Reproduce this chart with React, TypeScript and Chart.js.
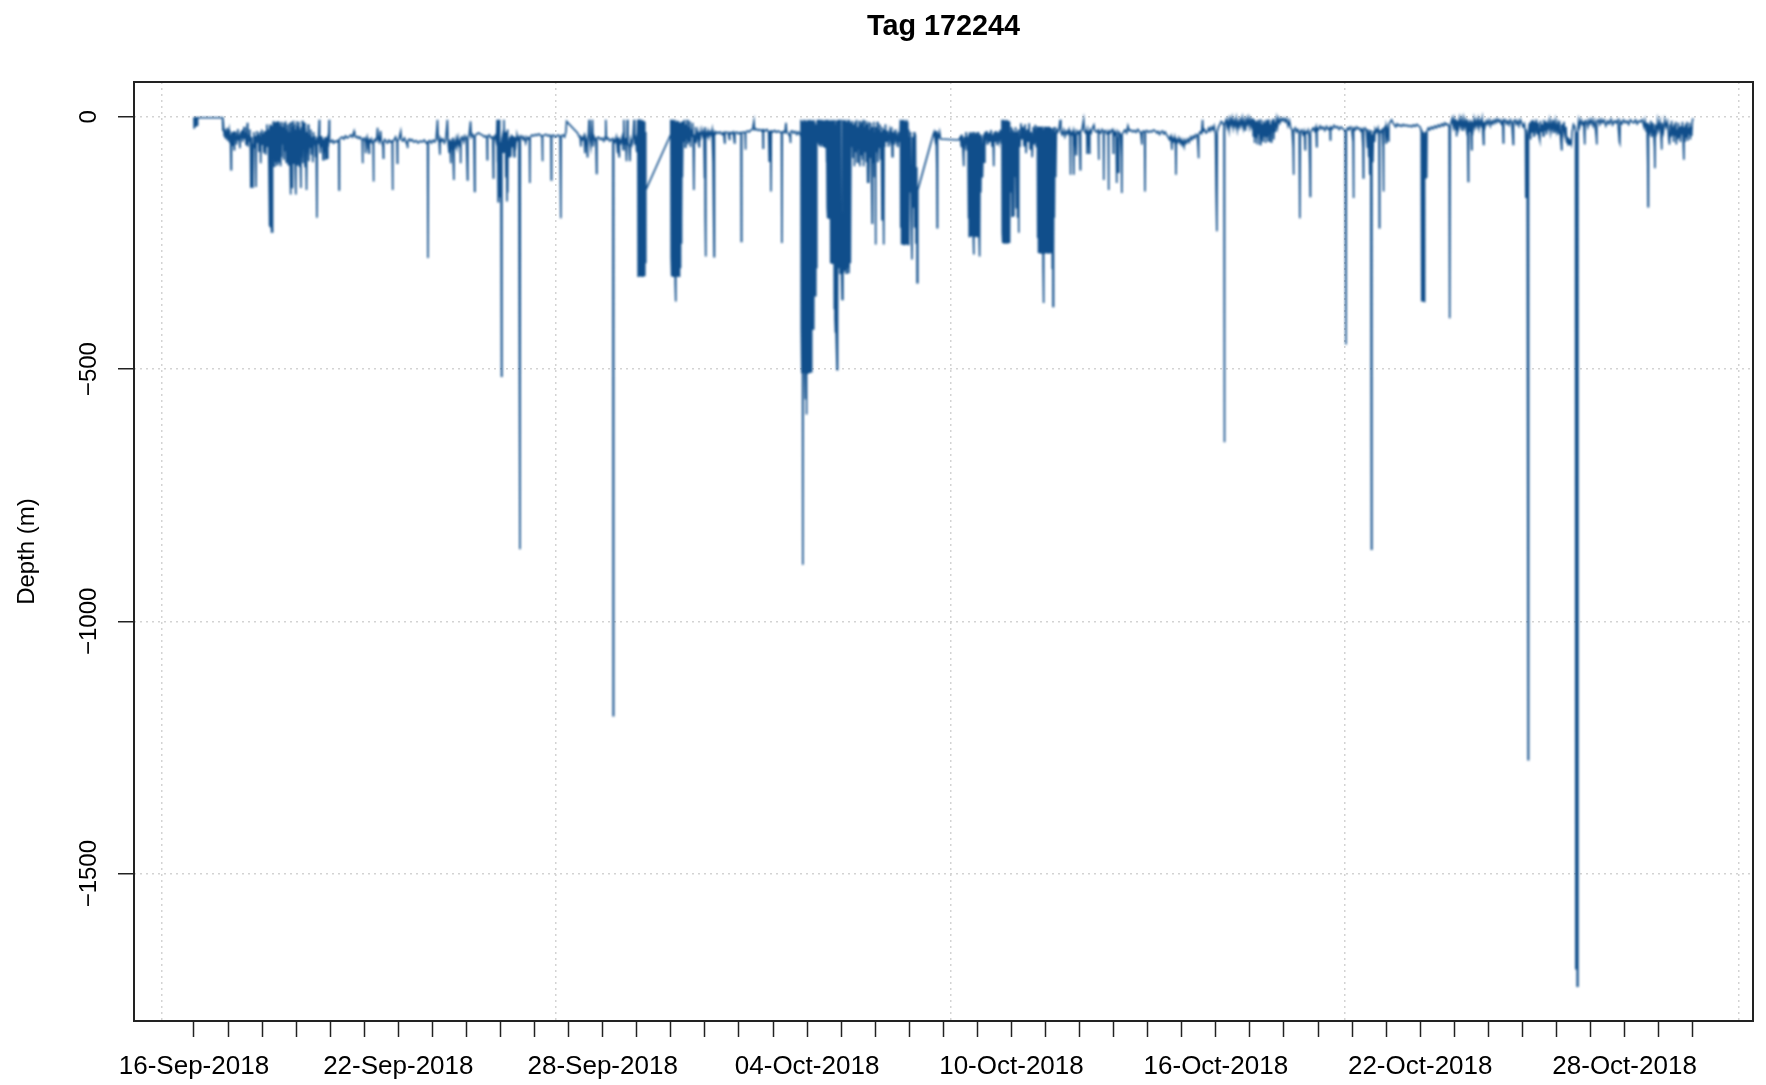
import React, { useEffect, useRef } from 'react';
import { Chart, registerables } from 'chart.js';

Chart.register(...registerables);

// ---------- labels / ticks ----------
const TITLE = 'Tag 172244';
const Y_TITLE = 'Depth (m)';
const X_TICK_DAYS = [0, 1, 2, 3, 4, 5, 6, 7, 8, 9, 10, 11, 12, 13, 14, 15, 16, 17, 18, 19, 20, 21, 22, 23, 24, 25, 26, 27, 28, 29, 30, 31, 32, 33, 34, 35, 36, 37, 38, 39, 40, 41, 42, 43, 44];
const X_LABEL_DAYS = [0, 6, 12, 18, 24, 30, 36, 42];
const X_LABELS = ['16-Sep-2018', '22-Sep-2018', '28-Sep-2018', '04-Oct-2018', '10-Oct-2018', '16-Oct-2018', '22-Oct-2018', '28-Oct-2018'];
const X_GRID_DAYS = [-0.9398, 10.6343, 22.2084, 33.7824, 45.3565];
const Y_TICKS = [0, -500, -1000, -1500];
const Y_LABELS = ['0', '\u2212500', '\u22121000', '\u22121500'];
const X_MIN = -1.76;
const X_MAX = 45.77;
const Y_MIN = -1792;
const Y_MAX = 69;

// ---------- depth record: [days since 16-Sep-2018, depth m] ----------
const SEP16_TO_SEP20: number[][] = [
[0.00,-2],[0.005,-22],[0.01,-2],[0.05,-2],[0.055,-20],[0.06,-2],[0.10,-2],[0.105,-18],[0.11,-2],[0.84,-2],
[0.85,-28],[0.87,-20],[0.89,-38],[0.91,-25],[0.93,-44],[0.95,-30],[0.97,-22],[0.99,-48],[1.01,-33],[1.03,-26],[1.05,-52],[1.07,-35],[1.08,-70],[1.09,-105],[1.10,-50],[1.12,-30],[1.14,-58],[1.16,-32],[1.18,-65],[1.19,-28],[1.21,-45],[1.23,-30],[1.25,-55],[1.27,-38],[1.29,-24],[1.31,-47],[1.33,-35],[1.35,-62],[1.37,-30],[1.39,-42],[1.41,-26],[1.43,-50],[1.45,-36],[1.47,-20],[1.49,-44],[1.51,-31],[1.53,-55],[1.55,-28],[1.57,-12],[1.58,-59],[1.60,-35],[1.62,-48],[1.64,-25],[1.66,-70],[1.67,-141],[1.68,-60],[1.69,-138],[1.70,-40],[1.72,-90],[1.73,-141],[1.74,-55],[1.76,-30],[1.78,-62],[1.80,-38],[1.82,-139],[1.83,-45],[1.85,-28],[1.87,-52],[1.89,-35],[1.91,-68],[1.93,-30],[1.95,-58],[1.96,-92],[1.97,-40],[1.99,-25],[2.01,-56],[2.03,-33],[2.05,-72],[2.07,-28],[2.09,-50],[2.11,-75],[2.12,-30],[2.14,-15],[2.16,-60],[2.18,-25],[2.20,-95],
[2.21,-150],[2.215,-20],[2.22,-190],[2.225,-30],[2.23,-217],[2.235,-15],[2.24,-205],[2.245,-25],[2.25,-217],[2.255,-40],[2.26,-220],[2.265,-20],[2.27,-225],[2.275,-35],[2.28,-230],[2.285,-18],[2.29,-210],[2.295,-45],[2.30,-230],[2.305,-30],[2.31,-200],[2.32,-40],
[2.33,-9],[2.34,-85],[2.35,-20],[2.36,-98],[2.37,-12],[2.38,-75],[2.39,-25],[2.40,-90],[2.41,-10],[2.42,-65],[2.43,-30],[2.44,-95],[2.45,-15],[2.46,-70],[2.47,-9],[2.48,-88],[2.49,-22],[2.50,-60],[2.51,-12],[2.52,-92],[2.53,-28],[2.54,-70],[2.55,-98],[2.56,-18],[2.57,-80],[2.58,-10],[2.60,-55],[2.62,-20],[2.64,-85],[2.65,-12],[2.67,-68],[2.69,-9],[2.71,-90],[2.72,-25],[2.74,-60],[2.75,-15],[2.77,-95],[2.78,-30],[2.80,-72],[2.81,-12],[2.83,-120],[2.84,-154],[2.85,-30],[2.86,-85],[2.87,-10],[2.88,-140],[2.89,-20],[2.91,-92],[2.92,-8],[2.94,-78],[2.95,-15],[2.97,-100],[2.99,-154],[3.00,-25],[3.01,-88],[3.02,-9],[3.04,-95],[3.05,-18],[3.07,-70],[3.08,-10],[3.10,-98],[3.11,-25],[3.13,-110],[3.14,-141],[3.15,-20],[3.17,-80],[3.18,-8],[3.20,-92],[3.21,-30],[3.23,-65],[3.24,-12],[3.26,-100],[3.27,-22],[3.29,-85],[3.30,-110],[3.31,-145],[3.32,-30],[3.34,-70],[3.35,-15],[3.37,-88],[3.39,-35],[3.41,-60],[3.43,-25],[3.45,-75],[3.47,-40],[3.49,-90],[3.51,-30],[3.53,-55],[3.55,-38],[3.57,-80],[3.59,-45],[3.61,-200],[3.62,-40],[3.64,-55],[3.66,-35],[3.68,-6],[3.69,-50],[3.71,-72],[3.73,-38],[3.75,-60],[3.77,-42],[3.79,-85],[3.81,-45],[3.83,-70],[3.85,-40],[3.87,-85],[3.88,-42],[3.90,-60],[3.92,-82],[3.93,-45],[3.95,-50],[3.97,-6],[3.98,-48],[4.02,-50],[4.06,-46],[4.10,-52],[4.14,-48],[4.18,-50],[4.22,-47],[4.25,-52],[4.26,-145],[4.27,-45]
];

const SEP20_TO_SEP24: number[][] = [
[4.30,-42],[4.35,-40],[4.40,-44],[4.45,-38],[4.50,-42],[4.55,-40],[4.60,-36],[4.65,-40],[4.70,-29],[4.72,-38],[4.76,-41],[4.80,-39],[4.84,-43],[4.88,-40],[4.92,-44],[4.94,-48],[4.95,-92],[4.96,-45],[5.00,-42],[5.03,-50],[5.04,-72],[5.05,-48],[5.08,-40],[5.10,-55],[5.12,-45],[5.14,-72],[5.15,-46],[5.18,-50],[5.21,-44],[5.24,-52],[5.26,-55],[5.27,-128],[5.28,-50],[5.31,-45],[5.34,-48],[5.37,-40],[5.39,-22],[5.41,-45],[5.44,-50],[5.48,-28],[5.50,-48],[5.53,-52],[5.55,-60],[5.56,-82],[5.57,-50],[5.60,-45],[5.64,-49],[5.68,-52],[5.72,-46],[5.76,-50],[5.80,-48],[5.82,-52],[5.83,-145],[5.84,-50],[5.88,-45],[5.92,-40],[5.96,-50],[5.97,-92],[5.98,-48],[6.02,-44],[6.07,-29],[6.09,-45],[6.13,-48],[6.18,-42],[6.22,-50],[6.26,-55],[6.27,-62],[6.28,-48],[6.32,-44],[6.36,-48],[6.40,-45],[6.46,-50],[6.52,-47],[6.58,-52],[6.64,-48],[6.70,-50],[6.76,-46],[6.82,-52],[6.86,-50],[6.87,-280],[6.88,-50],[6.92,-47],[6.97,-52],[7.02,-46],[7.07,-50],[7.11,-44],[7.15,-6],[7.17,-45],[7.20,-50],[7.22,-75],[7.23,-42],[7.27,-48],[7.31,-44],[7.35,-52],[7.39,-46],[7.44,-6],[7.46,-50],[7.49,-70],[7.51,-45],[7.54,-92],[7.55,-48],[7.57,-65],[7.59,-42],[7.61,-80],[7.63,-125],[7.64,-50],[7.67,-58],[7.70,-44],[7.73,-60],[7.76,-42],[7.79,-55],[7.82,-48],[7.83,-92],[7.84,-45],[7.88,-40],[7.92,-50],[7.96,-38],[8.00,-45],[8.03,-125],[8.04,-40],[8.08,-36],[8.12,-9],[8.14,-40],[8.18,-35],[8.22,-42],[8.24,-148],[8.25,-38],[8.30,-34],[8.36,-32],[8.42,-35]
];

const SEP24_TO_OCT03: number[][] = [
[8.47,-36],[8.52,-40],[8.57,-38],[8.60,-42],[8.61,-85],[8.62,-40],[8.67,-36],[8.72,-42],[8.77,-40],[8.79,-121],[8.80,-45],[8.84,-38],[8.88,-50],[8.90,-6],[8.91,-90],[8.92,-30],[8.93,-168],[8.94,-20],[8.95,-140],[8.96,-6],[8.97,-160],[8.98,-40],[9.00,-120],[9.01,-50],[9.03,-514],[9.04,-45],[9.06,-38],[9.08,-70],[9.10,-6],[9.12,-60],[9.14,-30],[9.16,-120],[9.17,-40],[9.19,-168],[9.20,-25],[9.21,-150],[9.22,-45],[9.25,-79],[9.27,-40],[9.30,-79],[9.32,-35],[9.35,-60],[9.37,-38],[9.40,-79],[9.42,-40],[9.45,-55],[9.48,-36],[9.50,-45],[9.54,-40],[9.57,-857],[9.58,-42],[9.62,-38],[9.66,-45],[9.70,-40],[9.74,-52],[9.78,-40],[9.82,-44],[9.85,-42],[9.86,-131],[9.87,-40],[9.92,-36],[9.97,-38],[10.02,-35],[10.07,-37],[10.12,-34],[10.17,-36],[10.22,-40],[10.23,-88],[10.24,-38],[10.29,-36],[10.34,-35],[10.39,-38],[10.44,-36],[10.48,-40],[10.49,-125],[10.50,-38],[10.55,-36],[10.60,-40],[10.65,-38],[10.70,-36],[10.75,-40],[10.77,-201],[10.78,-38],[10.83,-36],[10.88,-40],[10.92,-30],[10.94,-9],
[11.26,-32],[11.30,-38],[11.34,-42],[11.36,-59],[11.37,-40],[11.41,-45],[11.45,-38],[11.48,-72],[11.49,-40],[11.53,-50],[11.55,-79],[11.56,-42],[11.58,-35],[11.60,-6],[11.62,-45],[11.65,-60],[11.67,-40],[11.70,-6],[11.72,-59],[11.75,-40],[11.80,-48],[11.82,-112],[11.83,-42],[11.88,-40],[11.93,-45],[11.98,-42],[12.03,-48],[12.07,-40],[12.09,-6],[12.11,-45],[12.16,-42],[12.21,-48],[12.26,-44],[12.30,-46],[12.31,-1187],[12.32,-45],[12.36,-50],[12.40,-40],[12.44,-72],[12.45,-42],[12.48,-79],[12.49,-45],[12.53,-52],[12.57,-40],[12.60,-65],[12.62,-6],[12.64,-55],[12.67,-42],[12.70,-88],[12.72,-6],[12.74,-50],[12.78,-60],[12.80,-88],[12.82,-45],[12.86,-55],[12.89,-40],[12.92,-6],[12.94,-55],[12.97,-45],[13.00,-70],
[13.03,-6],[13.04,-316],[13.05,-10],[13.06,-300],[13.07,-5],[13.08,-316],[13.09,-15],[13.10,-310],[13.11,-8],[13.12,-316],[13.13,-12],[13.14,-305],[13.15,-6],[13.16,-316],[13.17,-20],[13.18,-312],[13.19,-8],[13.20,-316],[13.21,-15],[13.22,-300],[13.23,-10],[13.24,-316],[13.25,-30],[13.26,-290],[13.27,-145],
[13.99,-36],[14.00,-6],[14.01,-280],[14.02,-10],[14.03,-316],[14.04,-6],[14.05,-263],[14.06,-15],[14.07,-316],[14.08,-8],[14.09,-300],[14.10,-12],[14.11,-316],[14.12,-6],[14.13,-330],[14.14,-366],[14.15,-10],[14.16,-316],[14.17,-20],[14.18,-310],[14.19,-8],[14.20,-316],[14.21,-15],[14.22,-290],[14.23,-10],[14.24,-316],[14.25,-25],[14.26,-280],[14.27,-12],[14.28,-300],[14.29,-20],[14.30,-250],[14.31,-10],[14.32,-200],[14.33,-30],[14.34,-120],
[14.36,-9],[14.38,-50],[14.40,-6],[14.42,-60],[14.44,-15],[14.46,-45],[14.48,-6],[14.50,-55],[14.52,-20],[14.54,-48],[14.56,-9],[14.58,-60],[14.60,-25],[14.62,-40],[14.64,-12],[14.66,-52],[14.67,-100],[14.68,-145],[14.69,-35],[14.71,-50],[14.73,-20],[14.76,-45],[14.80,-30],[14.83,-59],[14.84,-30],[14.87,-40],[14.90,-25],[14.94,-38],[14.97,-30],[14.99,-120],[15.00,-20],[15.01,-200],[15.02,-277],[15.03,-30],[15.06,-38],[15.09,-28],[15.12,-40],[15.15,-30],[15.18,-35],[15.21,-26],[15.24,-90],[15.25,-30],[15.26,-184],[15.27,-277],[15.28,-30],[15.31,-34],[15.35,-30],
[15.40,-33],[15.45,-30],[15.50,-35],[15.55,-31],[15.58,-52],[15.59,-32],[15.64,-30],[15.69,-34],[15.72,-45],[15.73,-31],[15.78,-33],[15.83,-30],[15.87,-52],[15.88,-32],[15.93,-30],[15.98,-34],[16.03,-31],[16.06,-33],[16.07,-247],[16.08,-32],[16.13,-30],[16.18,-33],[16.19,-65],[16.20,-31],[16.25,-28],[16.30,-30],[16.35,-26],[16.40,-25],[16.44,-9],[16.46,-26],[16.51,-24],[16.56,-27],[16.61,-25],[16.66,-28],[16.70,-26],[16.71,-62],[16.72,-26],[16.77,-28],[16.82,-25],[16.87,-30],[16.89,-88],[16.90,-28],[16.93,-40],[16.94,-148],[16.95,-28],[17.00,-30],[17.05,-27],[17.10,-31],[17.15,-28],[17.20,-30],[17.25,-32],[17.26,-250],[17.27,-30]
];

const OCT03_TO_OCT08: number[][] = [
[17.30,-29],[17.35,-32],[17.38,-12],[17.40,-30],[17.45,-33],[17.50,-40],[17.51,-52],[17.52,-30],[17.56,-28],[17.60,-32],[17.65,-29],[17.70,-35],[17.74,-30],[17.78,-33],[17.81,-38],
[17.82,-6],[17.83,-420],[17.84,-8],[17.85,-508],[17.86,-10],[17.87,-500],[17.88,-888],[17.89,-12],[17.90,-508],[17.91,-6],[17.92,-490],[17.93,-10],[17.94,-508],[17.95,-8],[17.96,-560],[17.97,-15],[17.98,-590],[17.99,-10],[18.00,-508],[18.01,-6],[18.02,-500],[18.03,-12],[18.04,-508],[18.05,-8],[18.06,-495],[18.07,-15],[18.08,-508],[18.09,-6],[18.10,-480],[18.11,-10],[18.12,-505],[18.13,-12],[18.14,-460],[18.15,-8],[18.16,-422],[18.17,-15],[18.18,-410],[18.19,-6],[18.20,-422],[18.21,-20],[18.22,-356],[18.23,-10],[18.24,-340],[18.25,-25],[18.26,-356],[18.27,-15],[18.28,-300],[18.29,-30],
[18.30,-6],[18.31,-52],[18.32,-10],[18.33,-45],[18.34,-6],[18.35,-55],[18.36,-15],[18.37,-48],[18.38,-6],[18.39,-60],[18.40,-12],[18.41,-50],[18.42,-8],[18.43,-55],[18.44,-20],[18.45,-45],[18.46,-6],[18.47,-58],[18.48,-12],[18.49,-50],[18.50,-8],[18.51,-52],[18.52,-15],[18.53,-60],[18.54,-6],[18.55,-48],[18.56,-10],[18.57,-90],[18.58,-6],
[18.59,-180],[18.60,-8],[18.61,-201],[18.62,-10],[18.63,-190],[18.64,-6],[18.65,-201],[18.66,-12],[18.67,-175],[18.68,-8],[18.69,-201],[18.70,-290],[18.71,-10],[18.72,-250],[18.73,-6],[18.74,-290],[18.75,-12],[18.76,-201],[18.77,-8],[18.78,-290],[18.79,-10],[18.80,-380],[18.81,-6],[18.82,-400],[18.83,-428],[18.84,-15],[18.85,-420],[18.86,-8],[18.87,-460],[18.88,-501],[18.89,-12],[18.90,-400],[18.91,-6],[18.92,-300],[18.93,-20],
[18.95,-6],[18.97,-310],[18.99,-6],[19.01,-300],[19.03,-362],[19.05,-6],[19.07,-310],[19.09,-8],[19.11,-305],[19.13,-6],[19.15,-310],[19.17,-10],[19.19,-300],[19.21,-6],[19.23,-310],[19.25,-8],[19.27,-290],[19.29,-12],
[19.31,-60],[19.33,-8],[19.35,-80],[19.37,-15],[19.39,-98],[19.41,-10],[19.43,-70],[19.45,-6],[19.47,-90],[19.49,-20],[19.51,-65],[19.53,-8],[19.55,-98],[19.57,-15],[19.59,-75],[19.61,-10],[19.63,-85],[19.65,-6],[19.66,-98],[19.68,-20],[19.70,-70],[19.72,-8],[19.74,-90],[19.76,-15],[19.78,-131],[19.80,-10],[19.81,-131],[19.83,-25],[19.85,-80],[19.87,-12],[19.89,-100],[19.91,-211],[19.92,-20],[19.94,-90],[19.96,-10],[19.98,-120],[20.00,-30],[20.01,-253],[20.02,-20],[20.04,-70],[20.06,-10],[20.08,-90],[20.10,-25],[20.12,-60],[20.14,-15],[20.16,-85],[20.18,-30],[20.20,-204],[20.21,-20],[20.23,-80],[20.25,-253],[20.26,-25],[20.28,-60],[20.30,-15],[20.33,-50],[20.36,-28],[20.39,-59],[20.42,-30],[20.45,-45],[20.48,-20],[20.50,-79],[20.52,-30],[20.55,-55],[20.58,-25],[20.61,-48],[20.64,-35],[20.67,-60],[20.70,-30],[20.72,-50],
[20.74,-6],[20.75,-220],[20.76,-10],[20.77,-253],[20.78,-8],[20.79,-240],[20.80,-15],[20.81,-253],[20.82,-6],[20.83,-230],[20.84,-12],[20.85,-253],[20.86,-8],[20.87,-245],[20.88,-20],[20.89,-253],[20.90,-10],[20.91,-235],[20.92,-6],[20.93,-253],[20.94,-15],[20.95,-250],[20.96,-10],[20.97,-253],[20.98,-25],[20.99,-230],[21.00,-40],[21.02,-150],[21.04,-30],[21.06,-200],[21.08,-283],[21.10,-40],[21.12,-180],[21.14,-30],[21.16,-220],[21.18,-35],[21.20,-250],[21.22,-100],[21.23,-329],[21.25,-145],
[21.70,-36],[21.73,-30],[21.76,-45],[21.79,-28],[21.81,-100],[21.82,-220],[21.83,-35],[21.86,-40],[21.89,-30],[21.92,-44]
];

const OCT08_TO_OCT12: number[][] = [
[22.45,-46],[22.50,-40],[22.53,-60],[22.55,-35],[22.58,-70],[22.60,-98],[22.61,-40],[22.64,-55],[22.67,-30],[22.70,-65],[22.72,-40],
[22.74,-200],[22.75,-35],[22.76,-237],[22.77,-30],[22.78,-220],[22.79,-40],[22.80,-237],[22.81,-33],[22.82,-230],[22.83,-38],[22.84,-237],[22.85,-30],[22.86,-225],[22.87,-40],[22.88,-237],[22.89,-273],[22.90,-35],[22.91,-237],[22.92,-30],[22.93,-220],[22.94,-38],[22.95,-237],[22.96,-33],[22.97,-230],[22.98,-40],[22.99,-237],[23.00,-30],[23.01,-225],[23.02,-36],[23.03,-237],[23.04,-30],[23.05,-237],[23.06,-200],[23.07,-277],[23.08,-35],[23.10,-150],[23.12,-40],[23.15,-120],[23.18,-35],[23.20,-90],[23.22,-30],
[23.25,-45],[23.28,-28],[23.31,-55],[23.34,-32],[23.37,-50],[23.40,-26],[23.43,-59],[23.46,-35],[23.48,-98],[23.49,-30],[23.52,-50],[23.55,-28],[23.58,-56],[23.61,-30],[23.64,-48],[23.67,-26],[23.70,-52],
[23.72,-6],[23.73,-230],[23.74,-8],[23.75,-250],[23.76,-10],[23.77,-245],[23.78,-6],[23.79,-250],[23.80,-12],[23.81,-240],[23.82,-8],[23.83,-250],[23.84,-15],[23.85,-235],[23.86,-6],[23.87,-250],[23.88,-10],[23.89,-245],[23.90,-8],[23.91,-250],[23.92,-20],[23.93,-230],[23.94,-10],[23.95,-250],[23.96,-30],[23.98,-150],[24.00,-20],[24.02,-197],[24.04,-25],[24.06,-170],[24.07,-197],[24.08,-30],[24.10,-120],[24.12,-20],[24.14,-180],[24.16,-30],[24.18,-200],[24.20,-25],[24.21,-230],[24.22,-40],[24.25,-60],
[24.28,-13],[24.31,-45],[24.34,-20],[24.37,-59],[24.40,-15],[24.43,-72],[24.46,-25],[24.49,-50],[24.52,-13],[24.55,-65],[24.58,-30],[24.61,-80],[24.64,-20],[24.67,-55],[24.70,-16],[24.73,-60],
[24.76,-19],[24.77,-240],[24.78,-20],[24.79,-270],[24.80,-25],[24.81,-260],[24.82,-19],[24.83,-270],[24.84,-30],[24.85,-250],[24.86,-20],[24.87,-270],[24.88,-25],[24.89,-265],[24.90,-19],[24.91,-270],[24.92,-30],[24.93,-300],[24.94,-369],[24.95,-25],[24.96,-270],[24.97,-20],[24.98,-255],[24.99,-30],[25.00,-270],[25.01,-19],[25.02,-260],[25.03,-25],[25.04,-270],[25.05,-20],[25.06,-265],[25.07,-30],[25.08,-270],[25.09,-19],[25.10,-250],[25.11,-25],[25.12,-270],[25.13,-20],[25.14,-260],[25.15,-30],[25.16,-270],[25.17,-22],[25.18,-270],[25.19,-25],[25.20,-300],[25.21,-30],[25.22,-376],[25.23,-25],[25.24,-270],[25.25,-20],[25.26,-200],[25.28,-30],[25.30,-120],[25.32,-25],
[25.36,-30],[25.40,-22],[25.43,-6],[25.45,-30],[25.49,-36],[25.53,-26],[25.57,-39],[25.61,-28],[25.65,-34],[25.69,-25],[25.72,-40],[25.73,-115],[25.74,-30],[25.78,-35],[25.81,-28],[25.83,-115],[25.84,-30],[25.87,-36],[25.90,-75],[25.91,-28],[25.95,-33],[25.99,-29],[26.02,-105],[26.03,-30]
];

const OCT12_TO_OCT16: number[][] = [
[26.07,-26],[26.12,-6],[26.14,-28],[26.18,-32],[26.21,-25],[26.22,-72],[26.23,-28],[26.26,-30],[26.29,-72],[26.30,-26],[26.34,-32],[26.38,-22],[26.42,-16],[26.45,-28],[26.50,-30],[26.55,-26],[26.56,-85],[26.57,-28],[26.62,-32],[26.66,-25],[26.70,-30],[26.71,-125],[26.72,-30],[26.76,-27],[26.80,-33],[26.84,-30],[26.85,-145],[26.86,-28],[26.90,-32],[26.94,-26],[26.98,-30],[26.99,-72],[27.00,-28],[27.04,-35],[27.07,-30],[27.09,-131],[27.10,-40],[27.13,-110],[27.15,-30],[27.20,-35],[27.23,-80],[27.24,-151],[27.25,-35],[27.29,-30],[27.33,-26],[27.38,-32],[27.42,-18],[27.46,-28],[27.51,-26],[27.56,-30],[27.61,-27],[27.66,-31],[27.71,-25],[27.76,-29],[27.80,-33],[27.83,-55],[27.84,-30],[27.88,-28],[27.91,-32],[27.92,-148],[27.93,-30],[27.97,-27],[28.02,-31],[28.07,-28],[28.12,-30],[28.17,-26],[28.22,-28],[28.27,-32],[28.31,-29],[28.35,-35],[28.39,-30],[28.43,-28],[28.47,-34],[28.51,-30],[28.56,-36],[28.60,-40],[28.64,-45],[28.68,-38],[28.71,-65],[28.72,-42],[28.76,-48],[28.79,-40],[28.82,-60],[28.83,-115],[28.84,-45],[28.88,-50],[28.91,-42],[28.95,-52],[28.98,-45],[29.01,-55],[29.04,-48],[29.07,-59],[29.10,-46],[29.14,-52],[29.18,-44],[29.22,-50],[29.26,-40],[29.30,-45],[29.34,-38],[29.38,-42],[29.42,-35],[29.46,-38],[29.48,-60],[29.49,-82],[29.50,-35],[29.54,-30],[29.58,-33],[29.61,-6],[29.63,-28],[29.67,-25],[29.71,-32],[29.75,-30],[29.79,-22],[29.83,-28],[29.87,-20],[29.91,-26],[29.95,-18],[29.99,-35],[30.01,-150],[30.03,-227],[30.04,-30],[30.08,-20],[30.12,-15],[30.16,-9],[30.20,-12],[30.24,-18],[30.25,-645],[30.26,-15]
];

const OCT16_TO_OCT20: number[][] = [
[30.30,-6],[30.33,-20],[30.36,-8],[30.39,-26],[30.42,-5],[30.45,-15],[30.48,-3],[30.51,-22],[30.54,-8],[30.57,-18],[30.60,-4],[30.63,-25],[30.66,-10],[30.69,-20],[30.72,-6],[30.75,-16],[30.78,-3],[30.81,-22],[30.84,-9],[30.87,-28],[30.90,-5],[30.93,-14],[30.96,-3],[30.99,-20],[31.02,-6],[31.05,-18],[31.08,-3],[31.10,-38],[31.12,-5],[31.14,-52],[31.16,-8],[31.18,-40],[31.20,-10],[31.22,-55],[31.24,-6],[31.26,-35],[31.28,-12],[31.30,-55],[31.32,-5],[31.34,-45],[31.36,-15],[31.38,-50],[31.40,-8],[31.42,-38],[31.44,-12],[31.46,-52],[31.48,-6],[31.50,-40],[31.52,-10],[31.54,-48],[31.56,-5],[31.58,-35],[31.60,-15],[31.62,-50],[31.64,-8],[31.66,-30],[31.68,-4],[31.70,-45],[31.72,-10],[31.75,-30],[31.78,-5],[31.81,-20],[31.84,-3],[31.88,-12],[31.92,-3],[31.96,-8],[32.00,-3],[32.04,-10],[32.08,-4],[32.12,-18],[32.16,-8],[32.20,-22],[32.24,-26],[32.27,-60],[32.28,-115],[32.29,-28],[32.33,-22],[32.37,-30],[32.41,-25],[32.45,-33],[32.46,-120],[32.47,-201],[32.48,-30],[32.52,-26],[32.56,-35],[32.60,-28],[32.62,-65],[32.63,-30],[32.67,-32],[32.71,-26],[32.74,-40],[32.76,-100],[32.77,-158],[32.78,-30],[32.82,-26],[32.86,-22],[32.90,-28],[32.94,-20],[32.96,-59],[32.97,-22],[33.01,-26],[33.06,-18],[33.10,-24],[33.15,-20],[33.20,-27],[33.25,-19],[33.30,-25],[33.35,-22],[33.36,-46],[33.37,-20],[33.42,-24],[33.47,-17],[33.52,-22],[33.57,-19],[33.62,-25],[33.67,-20],[33.72,-23],[33.77,-26],[33.80,-30],[33.82,-451],[33.83,-28],[33.87,-22],[33.91,-26],[33.95,-20],[33.99,-24],[34.03,-50],[34.04,-161],[34.05,-22],[34.09,-26],[34.13,-20],[34.17,-24],[34.21,-22],[34.25,-28],[34.29,-24],[34.32,-60],[34.33,-121],[34.34,-26],[34.38,-22],[34.42,-28],[34.45,-60],[34.46,-24],[34.49,-80],[34.50,-30],[34.52,-115],[34.53,-26],[34.55,-100],[34.57,-857],[34.58,-35],[34.61,-90],[34.63,-28],[34.66,-50],[34.68,-24],[34.72,-30],[34.76,-22],[34.79,-40],[34.80,-220],[34.81,-28],[34.85,-30],[34.88,-26],[34.91,-60],[34.92,-148],[34.93,-25]
];

const OCT20_TO_OCT30: number[][] = [
[34.97,-20],[35.00,-52],[35.01,-18],[35.04,-26],[35.07,-48],[35.08,-15],[35.12,-10],[35.16,-6],[35.20,-12],[35.24,-16],[35.28,-20],[35.32,-14],[35.36,-18],[35.40,-16],[35.45,-19],[35.50,-15],[35.55,-18],[35.60,-16],[35.65,-19],[35.70,-17],[35.75,-20],[35.80,-16],[35.85,-19],[35.90,-15],[35.95,-18],[36.00,-20],
[36.03,-30],[36.04,-366],[36.05,-25],[36.06,-360],[36.07,-40],[36.08,-366],[36.09,-30],[36.10,-366],[36.11,-60],[36.12,-366],[36.13,-35],[36.15,-121],[36.16,-30],[36.19,-121],[36.20,-28],[36.24,-22],[36.28,-26],[36.33,-20],[36.38,-24],[36.43,-18],[36.48,-22],[36.53,-16],[36.58,-20],[36.63,-14],[36.68,-18],[36.72,-12],[36.76,-16],[36.80,-14],[36.85,-20],[36.86,-300],[36.87,-399],[36.88,-18],[36.91,-10],[36.94,-3],[36.97,-20],[37.00,-6],[37.03,-25],[37.05,-5],[37.07,-39],[37.09,-8],[37.12,-22],[37.15,-4],[37.18,-18],[37.21,-6],[37.24,-28],[37.27,-5],[37.30,-20],[37.33,-8],[37.36,-25],[37.39,-5],[37.41,-128],[37.42,-10],[37.45,-30],[37.48,-6],[37.51,-65],[37.52,-10],[37.55,-25],[37.58,-5],[37.61,-20],[37.64,-8],[37.67,-18],[37.70,-5],[37.73,-22],[37.76,-8],[37.79,-16],[37.82,-4],[37.86,-55],[37.87,-10],[37.90,-20],[37.94,-8],[37.98,-15],[38.02,-6],[38.06,-18],[38.10,-8],[38.14,-14],[38.18,-6],[38.22,-12],[38.26,-4],[38.30,-10],[38.34,-6],[38.38,-14],[38.42,-8],[38.44,-52],[38.45,-10],[38.49,-6],[38.53,-14],[38.57,-8],[38.61,-16],[38.65,-6],[38.69,-12],[38.73,-55],[38.74,-10],[38.78,-6],[38.82,-15],[38.86,-8],[38.90,-18],[38.94,-6],[38.98,-12],[39.02,-20],[39.06,-14],[39.09,-30],[39.10,-161],[39.11,-25],[39.14,-40],[39.17,-1274],[39.18,-30],[39.21,-12],[39.24,-45],[39.26,-8],[39.29,-30],[39.31,-6],[39.34,-40],[39.36,-10],[39.39,-25],[39.41,-5],[39.44,-35],[39.46,-12],[39.49,-40],[39.51,-46],[39.53,-8],[39.56,-30],[39.58,-15],[39.61,-38],[39.63,-6],[39.66,-28],[39.68,-10],[39.71,-35],[39.73,-14],[39.76,-22],[39.79,-8],[39.82,-30],[39.85,-12],[39.88,-25],[39.91,-6],[39.94,-32],[39.97,-10],[40.00,-28],[40.03,-14],[40.06,-35],[40.09,-8],[40.12,-40],[40.15,-65],[40.16,-15],[40.19,-30],[40.22,-10],[40.25,-35],[40.28,-20],[40.30,-52],[40.31,-45],[40.32,-52],[40.33,-40],[40.34,-55],[40.35,-42],[40.36,-52],[40.38,-48],[40.40,-55],[40.42,-45],[40.44,-52],[40.46,-30],[40.50,-15],[40.54,-20],[40.56,-30],[40.57,-1690],[40.59,-30],[40.61,-1723],[40.63,-25],
[40.65,-8],[40.68,-20],[40.72,-6],[40.76,-15],[40.80,-10],[40.82,-40],[40.83,-55],[40.84,-12],[40.88,-8],[40.92,-20],[40.96,-6],[41.00,-14],[41.04,-5],[41.08,-18],[41.12,-8],[41.17,-40],[41.18,-55],[41.19,-10],[41.23,-6],[41.27,-15],[41.31,-5],[41.35,-12],[41.40,-6],[41.45,-18],[41.50,-8],[41.55,-14],[41.60,-5],[41.65,-16],[41.70,-8],[41.75,-12],[41.80,-6],[41.85,-50],[41.86,-52],[41.87,-8],[41.92,-14],[41.97,-6],[42.02,-12],[42.07,-8],[42.12,-15],[42.17,-6],[42.22,-10],[42.27,-12],[42.32,-6],[42.37,-14],[42.42,-8],[42.47,-10],[42.52,-6],[42.57,-20],[42.60,-8],[42.64,-30],[42.66,-12],[42.68,-90],[42.69,-178],[42.70,-15],[42.74,-30],[42.77,-8],[42.80,-40],[42.83,-12],[42.86,-35],[42.88,-60],[42.89,-102],[42.90,-15],[42.94,-30],[42.97,-8],[43.00,-25],[43.04,-10],[43.08,-50],[43.09,-65],[43.10,-12],[43.14,-30],[43.18,-6],[43.22,-20],[43.26,-10],[43.30,-45],[43.32,-55],[43.34,-15],[43.36,-40],[43.38,-8],[43.40,-35],[43.42,-20],[43.44,-50],[43.46,-15],[43.48,-38],[43.50,-10],[43.52,-55],[43.54,-25],[43.56,-45],[43.58,-12],[43.60,-40],[43.62,-20],[43.64,-50],[43.66,-18],[43.68,-35],[43.70,-10],[43.72,-45],[43.74,-85],[43.75,-20],[43.77,-50],[43.79,-15],[43.81,-40],[43.83,-10],[43.85,-48],[43.87,-22],[43.89,-35],[43.91,-12],[43.93,-45],[43.95,-20],[43.97,-38],[43.99,-8],[44.01,-3]
];

const SEGMENTS = [SEP16_TO_SEP20, SEP20_TO_SEP24, SEP24_TO_OCT03, OCT03_TO_OCT08, OCT08_TO_OCT12, OCT12_TO_OCT16, OCT16_TO_OCT20, OCT20_TO_OCT30];

const FONT = "'Liberation Sans', Arial, Helvetica, sans-serif";
const LINE_COLOR = '#104E8B';
const GRID_COLOR = '#d3d3d3';
const AXIS_COLOR = '#222222';

export default function App() {
  const ref = useRef<HTMLCanvasElement | null>(null);

  useEffect(() => {
    const canvas = ref.current;
    if (!canvas) return;
    Chart.defaults.font.family = FONT;

    const points: { x: number; y: number }[] = [];
    SEGMENTS.forEach((seg) => seg.forEach(([d, v]) => points.push({ x: d, y: v })));

    const softLinePlugin = {
      id: 'softLine',
      beforeDatasetsDraw(chart: any) {
        chart.ctx.save();
        chart.ctx.filter = 'blur(0.8px)';
      },
      afterDatasetsDraw(chart: any) {
        chart.ctx.restore();
      },
    };

    const framePlugin = {
      id: 'frameAndYLabels',
      afterDraw(chart: any) {
        const { ctx, chartArea: a } = chart;
        ctx.save();
        ctx.strokeStyle = AXIS_COLOR;
        ctx.lineWidth = 2;
        ctx.strokeRect(a.left, a.top, a.right - a.left, a.bottom - a.top);
        const ys = chart.scales.y;
        ctx.fillStyle = '#000';
        ctx.font = `24px ${FONT}`;
        ctx.textAlign = 'center';
        ctx.textBaseline = 'middle';
        Y_TICKS.forEach((v, i) => {
          const py = ys.getPixelForValue(v);
          ctx.save();
          ctx.translate(a.left - 45, py);
          ctx.rotate(-Math.PI / 2);
          ctx.fillText(Y_LABELS[i], 0, 0);
          ctx.restore();
        });
        ctx.restore();
      },
    };

    const chart = new Chart(canvas, {
      type: 'line',
      data: {
        datasets: [
          {
            data: points,
            borderColor: LINE_COLOR,
            borderWidth: 1.6,
            pointRadius: 0,
            tension: 0,
            fill: false,
          },
        ],
      },
      options: {
        responsive: false,
        animation: false,
        devicePixelRatio: 1,
        events: [],
        layout: { padding: { top: 0, right: 13, bottom: 0, left: 0 } },
        plugins: {
          legend: { display: false },
          tooltip: { enabled: false },
          title: {
            display: true,
            text: TITLE,
            fullSize: false,
            color: '#000',
            font: { size: 28.8, weight: 'bold', family: FONT },
            padding: { top: 9.5, bottom: 37.94 },
          },
        },
        scales: {
          x: {
            type: 'linear',
            position: 'bottom',
            min: X_MIN,
            max: X_MAX,
            afterBuildTicks: (s: any) => {
              s.ticks = X_TICK_DAYS.map((v) => ({ value: v }));
            },
            afterFit: (s: any) => {
              s.height = 64;
            },
            ticks: {
              autoSkip: false,
              minRotation: 0,
              maxRotation: 0,
              padding: 14,
              color: '#000',
              font: { size: 26, family: FONT },
              callback: (v: any) => {
                const i = X_LABEL_DAYS.indexOf(Number(v));
                return i >= 0 ? X_LABELS[i] : '';
              },
            },
            grid: { drawOnChartArea: false, drawTicks: true, tickLength: 16, tickColor: AXIS_COLOR, tickWidth: 1.5 },
            border: { display: false },
          },
          xGrid: {
            type: 'linear',
            position: 'top',
            min: X_MIN,
            max: X_MAX,
            afterBuildTicks: (s: any) => {
              s.ticks = X_GRID_DAYS.map((v) => ({ value: v }));
            },
            afterFit: (s: any) => {
              s.height = 0;
            },
            ticks: { display: false },
            grid: { drawOnChartArea: true, drawTicks: false, color: GRID_COLOR, lineWidth: 1.5 },
            border: { display: false, dash: [2, 4] },
          },
          y: {
            type: 'linear',
            position: 'left',
            min: Y_MIN,
            max: Y_MAX,
            afterBuildTicks: (s: any) => {
              s.ticks = Y_TICKS.map((v) => ({ value: v }));
            },
            afterFit: (s: any) => {
              s.width = 134;
            },
            ticks: { padding: 0, callback: () => '' },
            grid: {
              drawOnChartArea: true,
              drawTicks: true,
              tickLength: 16,
              color: GRID_COLOR,
              lineWidth: 1.5,
              tickColor: AXIS_COLOR,
              tickWidth: 1.5,
            },
            border: { display: false, dash: [2, 4] },
            title: {
              display: true,
              text: Y_TITLE,
              color: '#000',
              font: { size: 24, family: FONT },
              padding: { top: 12.6, bottom: 0 },
            },
          },
        },
      },
      plugins: [softLinePlugin, framePlugin],
    } as any);

    return () => chart.destroy();
  }, []);

  return (
    <canvas
      ref={ref}
      width={1766}
      height={1085}
      style={{ position: 'absolute', left: 0, top: 0, width: 1766, height: 1085 }}
    />
  );
}
